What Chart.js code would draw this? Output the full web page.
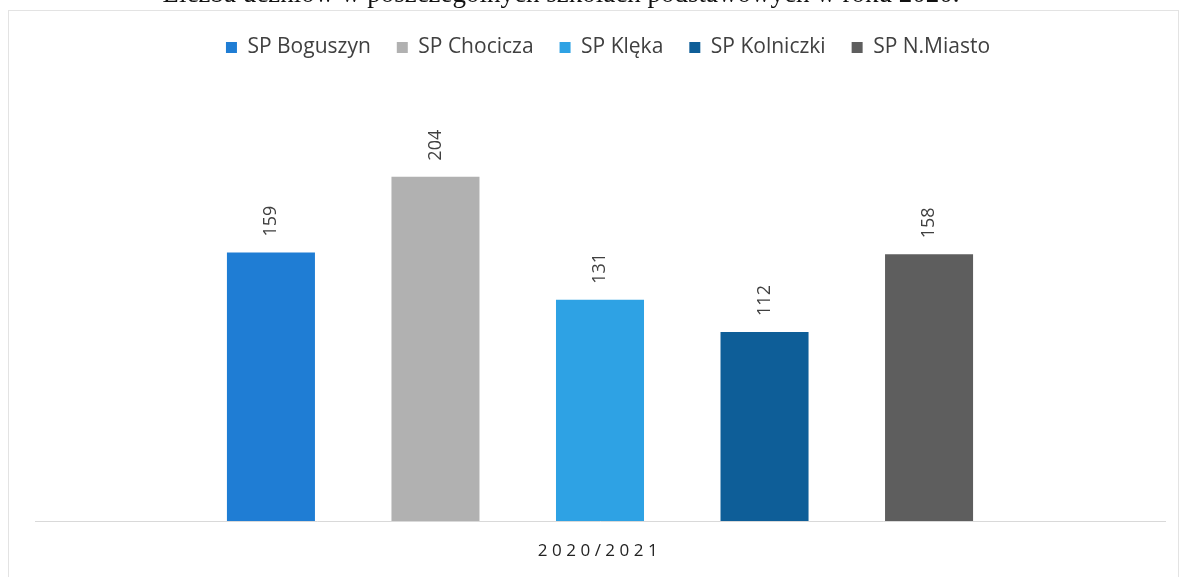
<!DOCTYPE html>
<html>
<head>
<meta charset="utf-8">
<script src="https://cdn.jsdelivr.net/npm/chart.js@4/dist/chart.umd.min.js"></script>
<style>
    html, body { margin: 0; padding: 0; background: #fff; overflow: hidden; }
    #wrap { position: relative; width: 1185px; height: 577px; }
    #heading {
        position: absolute;
        left: 0;
        width: 1185px;
        top: -22px;
        text-align: center;
        font-family: 'Liberation Serif', serif;
        font-size: 27px;
        line-height: 30px;
        color: #111;
        white-space: nowrap;
        padding-right: 63px;
        box-sizing: border-box;
    }
    canvas { position: absolute; left: 0; top: 0; }
</style>
</head>
<body>
<div id="wrap">
    <canvas id="chart" width="1185" height="577"></canvas>
    <div id="heading">Liczba uczniów w poszczególnych szkołach podstawowych w roku 2020.</div>
</div>
<script>
const categories = ['2020/2021'];
const schools = ['SP Boguszyn', 'SP Chocicza', 'SP Klęka', 'SP Kolniczki', 'SP N.Miasto'];
const pupils = [159, 204, 131, 112, 158];
const schoolColors = ['#1f7dd4', '#b1b1b1', '#2ea2e4', '#0e5e98', '#5e5e5e'];

const datasets = schools.map((name, i) => ({
    label: name,
    data: [pupils[i]],
    backgroundColor: schoolColors[i],
    borderWidth: 0,
    categoryPercentage: 0.728,
    barPercentage: 0.535,
}));

// frame around the chart object (like the pasted Excel chart)
const framePlugin = {
    id: 'frame',
    beforeDraw: (chart) => {
        const { ctx } = chart;
        ctx.save();
        ctx.strokeStyle = '#e3e3e3';
        ctx.lineWidth = 1;
        ctx.strokeRect(8.5, 10.5, 1170, 600);
        ctx.restore();
    },
};

// extra gap under the legend, and nudge it a bit to the right
const legendSpacing = {
    id: 'legendSpacing',
    afterInit: (chart) => {
        const legend = chart.legend;
        const origFit = legend.fit;
        legend.fit = function () {
            origFit.call(this);
            this.height += 31;
        };
    },
    afterLayout: (chart) => {
        chart.legend.left += 8;
        chart.legend.right += 8;
    },
};

// rotated value labels + the category label under the axis
const labelsPlugin = {
    id: 'valueLabels',
    afterDatasetsDraw: (chart) => {
        const { ctx, chartArea, scales } = chart;
        ctx.save();
        ctx.fillStyle = '#404040';
        ctx.font = '18px "Open Sans"';
        ctx.textAlign = 'left';
        ctx.textBaseline = 'middle';
        chart.data.datasets.forEach((ds, i) => {
            const meta = chart.getDatasetMeta(i);
            meta.data.forEach((bar, j) => {
                ctx.save();
                ctx.translate(bar.x, bar.y - 16);
                ctx.rotate(-Math.PI / 2);
                ctx.fillText(String(ds.data[j]), 0, 0);
                ctx.restore();
            });
        });

        ctx.fillStyle = '#222';
        ctx.font = '17px "Open Sans"';
        ctx.letterSpacing = '4.5px';
        ctx.textAlign = 'center';
        categories.forEach((c, j) => {
            const x = scales.x.getPixelForValue(j);
            ctx.fillText(c, x, chartArea.bottom + 30);
        });
        ctx.restore();
    },
};

new Chart(document.getElementById('chart').getContext('2d'), {
    type: 'bar',
    data: { labels: categories, datasets: datasets },
    options: {
        responsive: false,
        animation: false,
        devicePixelRatio: 1,
        layout: { padding: { left: 35, right: 20, top: 11, bottom: 48 } },
        plugins: {
            legend: {
                position: 'top',
                labels: {
                    boxWidth: 11,
                    boxHeight: 11,
                    padding: 26,
                    color: '#404040',
                    font: { family: 'Open Sans', size: 21 },
                },
            },
            tooltip: { enabled: false },
        },
        scales: {
            x: {
                grid: { display: false },
                border: { display: true, color: '#d9d9d9' },
                ticks: { display: false },
            },
            y: {
                display: false,
                min: 0,
                max: 250,
            },
        },
    },
    plugins: [framePlugin, legendSpacing, labelsPlugin],
});
</script>
</body>
</html>
